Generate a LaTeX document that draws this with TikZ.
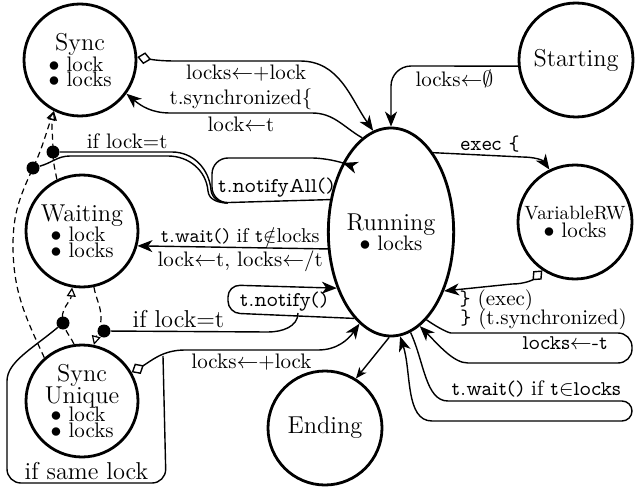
\documentclass[tikz,border=0pt]{standalone}
\usepackage{amssymb}
\usetikzlibrary{arrows.meta,shapes.geometric}
\newcommand\bl[1]{\makebox[31.3pt][l]{$\bullet$ #1}}
\newcommand\vtt[1]{{\fontfamily{lmvtt}\selectfont #1}}
\newcommand\la{$\leftarrow$}
\newcommand\ttl{\fontsize{12.2}{14}\selectfont}
\begin{document}
\begin{tikzpicture}[x=0.5pt,y=-0.5pt,
  every node/.style={font=\fontsize{10.5}{12.6}\selectfont, inner sep=1pt},
  state/.style={circle, draw, line width=1.4pt, minimum size=56pt, inner sep=0pt, align=center},
  arr/.style={line width=0.7pt, -{Stealth[length=7.5pt,width=6pt,inset=2.2pt]}},
  plain/.style={line width=0.7pt},
  dsh/.style={line width=0.6pt, dash pattern=on 3pt off 2pt, -{Triangle[open,length=4.5pt,width=4.5pt]}},
  diastart/.style={line width=0.7pt, {Diamond[open,length=7pt,width=6pt]}-{Stealth[length=7.5pt,width=6pt,inset=2.2pt]}},
  dot/.style={circle, fill, inner sep=0pt, minimum size=6.5pt},
  lbl/.style={inner sep=1.5pt}
]
\useasboundingbox (0,0) rectangle (637,492);

% states
\node[state] (sync) at (80,60) {{\ttl Sync}\\[-2.2pt]\bl{lock}\\[-4.8pt]\bl{locks}};
\node[state, minimum size=57pt] (start) at (576,60) {\ttl Starting};
\node[draw, ellipse, line width=1.4pt, minimum width=56pt, minimum height=104pt, inner sep=0pt, align=center] (run) at (391,232) {{\ttl Running}\\[-2.6pt]$\bullet$ locks};
\node[state] (wait) at (82,231) {{\ttl Waiting}\\[-2.6pt]\bl{lock}\\[-4.6pt]\bl{locks}};
\node[state, minimum size=57pt] (vrw) at (575,222) {{\fontsize{9.6}{11}\selectfont VariableRW}\\[-3.4pt]$\bullet$ locks};
\node[state] (su) at (82,401) {{\ttl Sync}\\[-2pt]{\ttl Unique}\\[-3.6pt]\bl{lock}\\[-4.6pt]\bl{locks}};
\node[state, minimum size=57pt] (end) at (325,428) {\ttl Ending};

% dots
\node[dot] (d1) at (53,152) {};
\node[dot] (d2) at (33,168) {};
\node[dot] (d3) at (63,323) {};
\node[dot] (d4) at (104,331) {};

% dashed transitions
\draw[dsh] (wait.116) to[out=100,in=-90] (d1.center) to[out=90,in=-100] (sync.-117);
\draw[dsh] (su.131) to[out=115,in=-90] (13,245) to[out=90,in=-115] (d2.center) to[out=65,in=-110] (sync.-117);
\draw[dsh] (su.98) to[out=115,in=-75] (d3.center) to[out=105,in=-95] (wait.-100);
\draw[dsh] (wait.-78) to[out=-80,in=90] (101,318) to[out=-90,in=75] (su.78);

% Starting -> Running
\draw[arr, rounded corners=10pt] (start.186) -- node[below, lbl]{locks\la$\emptyset$} (391,66) -- (run.north);
% Sync -> Running
\draw[diastart] (sync.3) to[out=-10,in=180] (175,61) -- node[below, lbl, pos=0.57]{locks\la+lock} (300,61) to[out=0,in=125] (run.100);
% Running -> Sync
\draw[arr] (run.107) to[out=150,in=0] (312,113) -- node[above, lbl]{t.synchronized\{} node[below, lbl]{lock\la t} (170,113) to[out=180,in=-40] (sync.-36);
% Running -> Waiting
\draw[arr] (run.195) -- node[above, lbl, pos=0.46, font=\fontsize{10}{12}\selectfont]{\vtt{t.wait()} if \vtt{t}$\notin$locks} node[below, lbl, pos=0.46]{lock\la t, locks\la/t} (wait.-15);
% notifyAll loop
\draw[arr, rounded corners=8pt] (run.152.6) -- node[above, lbl, pos=0.456]{\vtt{t.notifyAll()}} (212,203) -- (212,158) -- (328,158) -- (run.125.5);
\draw[plain] (d1) -- node[above, lbl, pos=0.6]{if lock=t} (172,152) to[out=0,in=95] (211,190) to[out=-85,in=180] (228,203);
\draw[plain] (d2) to[out=15,in=180] (70,156) -- (168,156) to[out=0,in=95] (208,191) to[out=-85,in=180] (228,203);
% notify loop
\draw[arr, rounded corners=6pt] (run.247.2) -- node[above, lbl, pos=0.557]{\vtt{t.notify()}} (228,313) -- (228,285) -- (run.226.3);
\draw[plain] (d4) -- node[above, lbl, pos=0.43]{\ttl if lock=t} (268,332) to[out=0,in=-90] (298,313);
% Sync Unique -> Running
\draw[diastart] (su.30) to[out=30,in=180] (185,350) -- node[below, lbl]{locks\la+lock} (318,350) to[out=0,in=235] (run.251.2);
\draw[plain, rounded corners=7pt] (d3) to[out=-140,in=90] (7,395) -- (7,483) -- node[above, lbl]{\ttl if same lock} (166,483) -- (163,356);
% Running -> VariableRW
\draw[arr] (run.62) -- node[above, lbl, pos=0.64]{\vtt{exec \{}} (522,157) to[out=0,in=125] (vrw.116);
% VariableRW -> Running
\draw[diastart] (vrw.236) to[out=225,in=0] (512,284) -- node[below, lbl, pos=0.23]{\vtt{\}} (exec)} (run.-48.4);
% t.synchronized loop
\draw[arr, rounded corners=7pt] (run.-68) to[out=-35,in=180] (465,333) -- node[above, lbl, pos=0.47]{\vtt{\}} (t.synchronized)} node[below, lbl, pos=0.6]{\vtt{locks\la-t}} (632,333) -- (632,363) -- (482,363) to[out=180,in=-45] (run.-73.4);
% t.wait loop
\draw[arr, rounded corners=5pt] (run.-79) to[out=-65,in=180] (458,401) -- node[above, lbl, pos=0.45]{\vtt{t.wait()} if \vtt{t}$\in$\vtt{locks}} (632,401) -- (632,421) -- (442,421) to[out=180,in=-72] (run.-85);
% Running -> Ending
\draw[arr, -{Stealth[length=5.5pt,width=4.5pt,inset=1.5pt]}] (run.-91) -- (end.58);
\end{tikzpicture}
\end{document}
